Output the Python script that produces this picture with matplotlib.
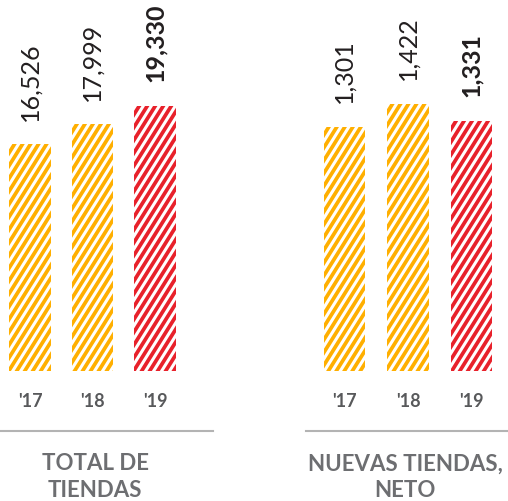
import numpy as np
import matplotlib
matplotlib.use("Agg")
import matplotlib.pyplot as plt
from matplotlib.transforms import IdentityTransform, blended_transform_factory
from matplotlib.collections import LineCollection

# datos
years = ["'17", "'18", "'19"]
total_tiendas = [16526, 17999, 19330]
nuevas_tiendas = [1301, 1422, 1331]
labels_total = ["16,526", "17,999", "19,330"]
labels_nuevas = ["1,301", "1,422", "1,331"]
titles = ["TOTAL DE\nTIENDAS", "NUEVAS TIENDAS,\nNETO"]

naranja = "#FFAF00"
rojo = "#E8212B"
colores = [naranja, naranja, rojo]

plt.rcParams['font.family'] = ['Lato', 'DejaVu Sans']

W, H = 508, 501
fig = plt.figure(figsize=(W/100, H/100), dpi=100)

# ejes: [left, bottom, width, height] en pixeles
ax1 = fig.add_axes([0/W, 70/H, 213/W, 431/H])
ax2 = fig.add_axes([306/W, 70/H, 202/W, 431/H])

def panel(ax, vals, labs, xlim, ylim, bw):
    x = np.arange(len(vals))
    bars = ax.bar(x, vals, width=bw, color=colores, linewidth=0)
    ax.set_xlim(*xlim)
    ax.set_ylim(*ylim)
    for s in ["top", "left", "right"]:
        ax.spines[s].set_visible(False)
    ax.spines["bottom"].set_color("#b3b3b3")
    ax.spines["bottom"].set_linewidth(1.5)
    ax.set_xticks([])
    ax.set_yticks([])
    tr = blended_transform_factory(ax.transData, ax.transAxes)
    for i in range(len(vals)):
        bold = (i == len(vals) - 1)
        ax.annotate(labs[i], (x[i], vals[i]), xytext=(0, 17), textcoords="offset points",
                    rotation=90, ha="center", va="bottom", fontsize=18,
                    fontweight="bold" if bold else "normal", color="#231f20")
        ax.text(x[i], 0.068, years[i], transform=tr, ha="center", va="center",
                fontsize=13, fontweight="bold", color="#58595b")
    return bars

b1 = panel(ax1, total_tiendas, labels_total, (-0.48, 2.93), (-4377, 27062), 0.67)
b2 = panel(ax2, nuevas_tiendas, labels_nuevas, (-0.606, 2.575), (-319.6, 1976), 0.655)

# rayas blancas diagonales
ang = np.deg2rad(58)
period = 8.0
for ax, bars in [(ax1, b1), (ax2, b2)]:
    for bar in bars:
        x0, y0 = ax.transData.transform((bar.get_x(), 0))
        x1, y1 = ax.transData.transform((bar.get_x() + bar.get_width(), bar.get_height()))
        h = y1 - y0
        dx = h / np.tan(ang)
        segs = []
        k = x0 - dx - period
        while k < x1 + period:
            segs.append([(k, y0 - 2), (k + dx + 4 / np.tan(ang), y1 + 2)])
            k += period
        lc = LineCollection(segs, colors="white", linewidths=2.2, transform=IdentityTransform())
        ax.add_collection(lc)
        lc.set_clip_path(bar)

fig.text(95/W, 24/H, titles[0], ha="center", va="center", fontsize=16,
         fontweight="bold", color="#6d6e71", linespacing=1.3)
fig.text(405/W, 24/H, titles[1], ha="center", va="center", fontsize=16,
         fontweight="bold", color="#6d6e71", linespacing=1.3)

fig.savefig("out.png", dpi=100)
